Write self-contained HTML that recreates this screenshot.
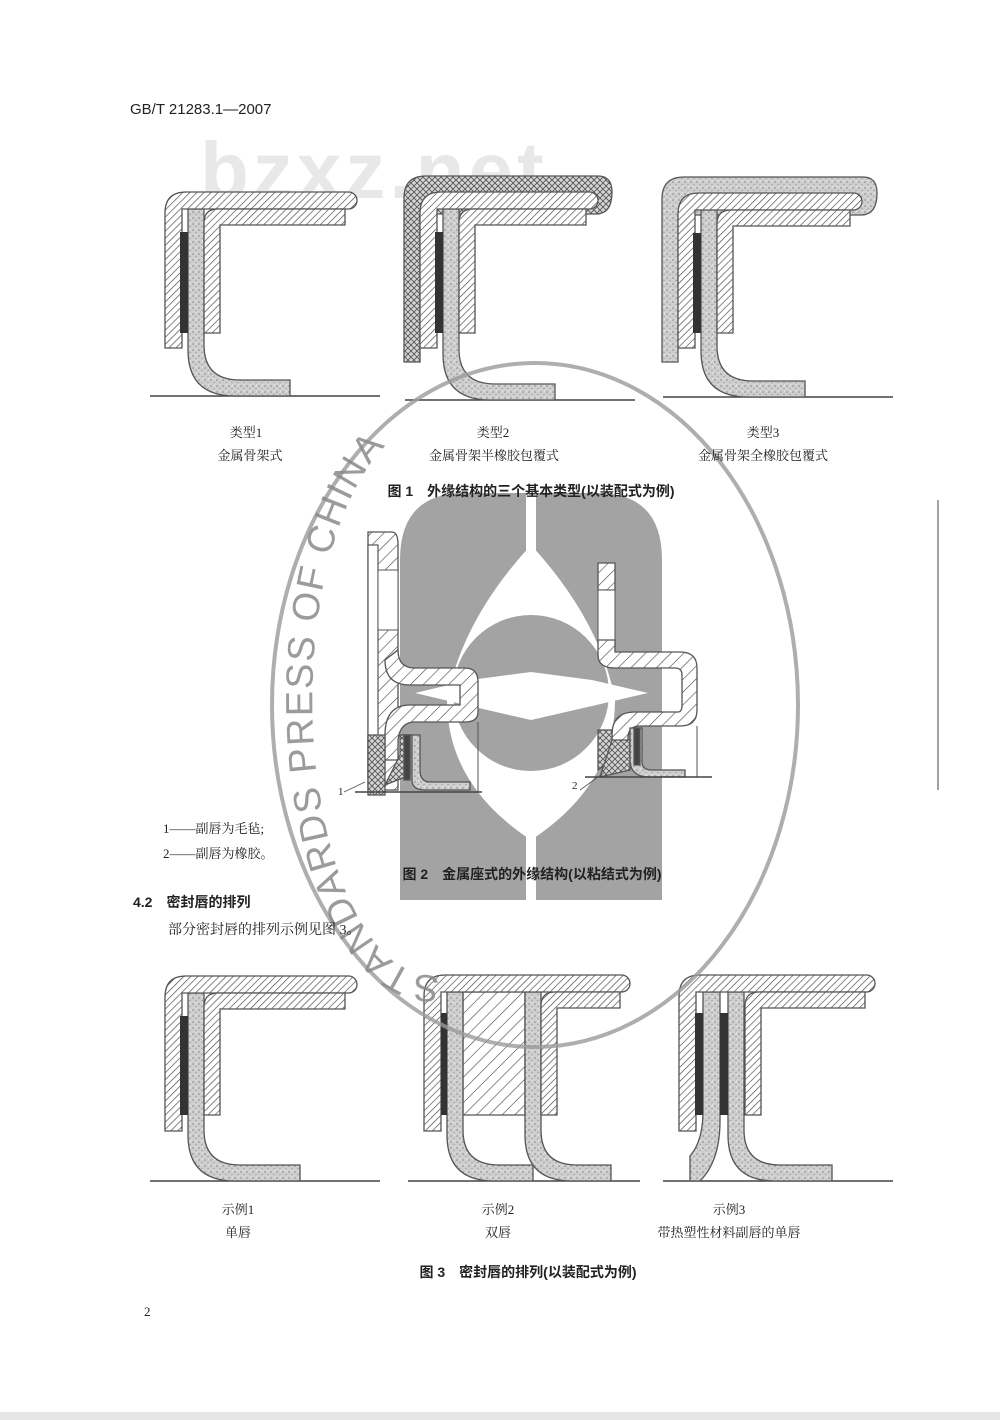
<!DOCTYPE html>
<html><head><meta charset="utf-8"><style>
html,body{margin:0;padding:0;background:#fff}
body{width:1000px;height:1420px;position:relative;overflow:hidden;font-family:"Liberation Serif","Noto Serif CJK SC",serif;color:#222}
.t{position:absolute;white-space:nowrap;font-size:13px}
.c{transform:translateX(-50%)}
.b{font-family:"Liberation Sans","Noto Sans CJK SC",sans-serif;font-weight:bold;font-size:14px}
svg{position:absolute;left:0;top:0}
</style></head><body>
<svg id="s" width="1000" height="1420" viewBox="0 0 1000 1420">
<defs>
<pattern id="h" width="5" height="5" patternUnits="userSpaceOnUse" patternTransform="rotate(45)"><rect width="5" height="5" fill="#fff"/><line x1="0" y1="0" x2="0" y2="5" stroke="#444" stroke-width="1.3"/></pattern>
<pattern id="h2" width="9" height="9" patternUnits="userSpaceOnUse" patternTransform="rotate(45)"><rect width="9" height="9" fill="#fff"/><line x1="0" y1="0" x2="0" y2="9" stroke="#444" stroke-width="1.2"/></pattern>
<pattern id="st" width="6" height="6" patternUnits="userSpaceOnUse"><rect width="6" height="6" fill="#cfcfcf"/><circle cx="1" cy="2" r=".8" fill="#888"/><circle cx="4" cy="4.5" r=".7" fill="#999"/><circle cx="4.5" cy="1" r=".5" fill="#fff"/></pattern>
<pattern id="cx" width="6" height="6" patternUnits="userSpaceOnUse"><rect width="6" height="6" fill="#d5d5d5"/><path d="M0,0L6,6M6,0L0,6" stroke="#555" stroke-width=".9"/></pattern>
</defs>
<text x="200" y="198" font-family="Liberation Sans" font-weight="bold" font-size="80" fill="#e8e8e8" letter-spacing="4">bzxz.net</text>
<g id="draw"></g>
</svg>

<div class="t" style="left:130px;top:101px;font-size:15px;font-family:'Liberation Sans',sans-serif">GB/T 21283.1—2007</div>

<div class="t c" style="left:246px;top:422px">类型1</div>
<div class="t c" style="left:250px;top:445px">金属骨架式</div>
<div class="t c" style="left:493px;top:422px">类型2</div>
<div class="t c" style="left:494px;top:445px">金属骨架半橡胶包覆式</div>
<div class="t c" style="left:763px;top:422px">类型3</div>
<div class="t c" style="left:763px;top:445px">金属骨架全橡胶包覆式</div>
<div class="t c b" style="left:531px;top:481px">图 1　外缘结构的三个基本类型(以装配式为例)</div>

<div class="t" style="left:338px;top:786px;font-size:11px">1</div>
<div class="t" style="left:572px;top:780px;font-size:11px">2</div>
<div class="t" style="left:163px;top:818px">1——副唇为毛毡;</div>
<div class="t" style="left:163px;top:843px">2——副唇为橡胶。</div>
<div class="t c b" style="left:532px;top:864px">图 2　金属座式的外缘结构(以粘结式为例)</div>
<div class="t b" style="left:133px;top:892px">4.2　密封唇的排列</div>
<div class="t" style="left:168px;top:919px;font-size:14px">部分密封唇的排列示例见图 3。</div>

<div class="t c" style="left:238px;top:1199px">示例1</div>
<div class="t c" style="left:238px;top:1222px">单唇</div>
<div class="t c" style="left:498px;top:1199px">示例2</div>
<div class="t c" style="left:498px;top:1222px">双唇</div>
<div class="t c" style="left:729px;top:1199px">示例3</div>
<div class="t c" style="left:729px;top:1222px">带热塑性材料副唇的单唇</div>
<div class="t c b" style="left:528px;top:1262px">图 3　密封唇的排列(以装配式为例)</div>
<div class="t" style="left:144px;top:1304px">2</div>

<script>
var o='';
function P(d,f,sw){o+='<path d="'+d+'" fill="'+(f||'none')+'" stroke="#555" stroke-width="'+(sw||1.3)+'"/>';}
function outer(x0,top,right,bottom){var t=17;
P('M'+x0+','+bottom+' L'+x0+','+(top+21)+' Q'+x0+','+top+' '+(x0+21)+','+top+' L'+(right-8.5)+','+top+' A8.5 8.5 0 0 1 '+(right-8.5)+','+(top+t)+' L'+(x0+t)+','+(top+t)+' L'+(x0+t)+','+bottom+' Z','url(#h)');}
function inner(l,top2,right,ib){var r=l+16;
P('M'+l+','+ib+' L'+l+','+(top2+14)+' Q'+l+','+top2+' '+(l+14)+','+top2+' L'+right+','+top2+' L'+right+','+(top2+16)+' L'+r+','+(top2+16)+' L'+r+','+ib+' Z','url(#h)');}
function lip(l,top2,end,base){var r=l+16;
P('M'+l+','+top2+' L'+r+','+top2+' L'+r+','+(base-51)+' Q'+r+','+(base-16)+' '+(r+36)+','+(base-16)+' L'+end+','+(base-16)+' L'+end+','+base+' L'+(r+31)+','+base+' Q'+l+','+base+' '+l+','+(base-46)+' Z','url(#st)');}
function lipL(l,top2,end,base){var r=l+17;
P('M'+l+','+top2+' L'+r+','+top2+' L'+r+','+(base-60)+' Q'+r+','+(base-20)+' '+(end+10)+','+base+' L'+end+','+base+' L'+end+','+(base-25)+' Q'+l+','+(base-40)+' '+l+','+(base-70)+' Z','url(#st)');}
function blk(l,r,y1,y2){o+='<rect x="'+l+'" y="'+y1+'" width="'+(r-l)+'" height="'+(y2-y1)+'" fill="#333"/>';}
function base(x1,x2,y){o+='<line x1="'+x1+'" y1="'+y+'" x2="'+x2+'" y2="'+y+'" stroke="#444" stroke-width="1.5"/>';}
function wrap(x0,top,right,bottom,f){P('M'+x0+','+bottom+' L'+x0+','+(top+22)+' Q'+x0+','+top+' '+(x0+22)+','+top+' L'+(right-14)+','+top+' Q'+right+','+top+' '+right+','+(top+16)+' Q'+right+','+(top+38)+' '+(right-16)+','+(top+38)+' L'+(x0+16)+','+(top+38)+' L'+(x0+16)+','+bottom+' Z',f);}
function single(x0,top,right,bottom,b,lend,ib){
 base(x0-15,x0+215,b);
 lip(x0+23,top+17,lend,b);
 outer(x0,top,right,bottom);
 blk(x0+15,x0+23,top+40,ib);
 inner(x0+39,top+17,right-12,ib);
}
single(165,192,357,348,396,290,333);
wrap(404,176,612,362,'url(#cx)');
single(420,192,598,348,400,555,333);
wrap(662,177,877,362,'url(#st)');
single(678,193,862,348,397,805,333);
single(165,976,357,1131,1181,300,1115);
base(408,640,1181);
P('M463,992 L525,992 L525,1115 L463,1115 Z','url(#h2)');
lip(447,992,533,1181);
lip(525,992,611,1181);
outer(424,975,630,1131);
blk(441,447,1013,1115);
inner(541,992,620,1115);
base(663,893,1181);
lipL(703,992,690,1181);
lip(728,992,832,1181);
outer(679,975,875,1131);
blk(695,703,1013,1115);blk(720,728,1013,1115);
inner(745,992,865,1115);

var g='';
g+='<path d="M400,900 L400,560 Q400,493 465,493 L526,493 L526,900 Z" fill="#a3a3a3"/>';
g+='<path d="M662,900 L662,560 Q662,493 597,493 L536,493 L536,900 Z" fill="#a3a3a3"/>';
g+='<path d="M531,545 Q600,620 615,700 Q615,785 531,840 Q447,785 447,700 Q462,620 531,545 Z" fill="#fff"/>';
g+='<circle cx="531" cy="693" r="78" fill="#a3a3a3"/>';
g+='<path d="M415,693 L470,680 L531,672 L592,680 L648,693 L592,706 L531,720 L470,706 Z" fill="#fff"/>';
o=g+o;

P('M368,532 L392,532 Q398,532 398,545 L398,790 L368,790 Z','url(#h2)');
o+='<rect x="368" y="545" width="10" height="233" fill="#fff" stroke="#555" stroke-width="1.2"/>';
o+='<rect x="378" y="570" width="20" height="60" fill="#fff" stroke="#555" stroke-width="1"/>';
P('M398,650 Q398,668 415,668 L465,668 Q478,668 478,682 L478,712 Q478,722 465,722 L415,722 Q400,722 398,740 L398,760 L385,760 L385,735 Q385,705 410,705 L460,705 L460,685 L410,685 Q385,685 385,660 Z','url(#h2)');
P('M368,735 L385,735 L385,795 L368,795 Z','url(#cx)');
P('M385,785 L400,755 L400,735 L410,735 L410,775 Z','url(#cx)');
P('M400,735 L412,735 L412,780 Q412,790 425,790 L470,790 L470,782 L430,782 Q420,782 420,770 L420,735 Z','url(#st)');
P('M404,735 L410,735 L410,780 L404,780 Z','#444');
o+='<line x1="478" y1="722" x2="478" y2="792" stroke="#555"/>';
base(355,482,792);
o+='<line x1="344" y1="792" x2="365" y2="782" stroke="#555" stroke-width=".8"/>';
P('M598,563 L615,563 L615,590 L598,590 Z','url(#h2)');
o+='<rect x="598" y="590" width="17" height="50" fill="#fff" stroke="#555" stroke-width="1"/>';
P('M598,640 L615,640 L615,652 L680,652 Q697,652 697,668 L697,710 Q697,726 680,726 L640,726 Q628,726 628,738 L628,760 L612,760 L612,735 Q612,712 635,712 L678,712 Q682,712 682,705 L682,675 Q682,668 675,668 L615,668 Q598,668 598,655 Z','url(#h2)');
P('M598,730 L612,730 L612,760 L598,770 Z','url(#cx)');
P('M612,740 L630,740 L630,770 L600,777 Z','url(#cx)');
P('M630,728 L642,728 L642,762 Q642,770 652,770 L685,770 L685,777 L650,777 Q630,777 630,760 Z','url(#st)');
P('M634,728 L640,728 L640,765 L634,765 Z','#444');
o+='<line x1="697" y1="726" x2="697" y2="777" stroke="#555"/>';
base(585,712,777);
o+='<line x1="580" y1="790" x2="605" y2="772" stroke="#555" stroke-width=".8"/>';
o+='<line x1="938" y1="500" x2="938" y2="790" stroke="#666" stroke-width="1.2"/>';

o+='<ellipse cx="535" cy="705" rx="263" ry="342" fill="none" stroke="#9a9a9a" stroke-width="4" opacity=".8"/>';
o+='<path id="arc" d="M440,975 A120 275 0 0 1 425,425" fill="none"/>';
o+='<text font-family="Liberation Sans" font-size="38" fill="#8a8a8a" opacity=".85"><textPath href="#arc" textLength="600" lengthAdjust="spacing">STANDARDS PRESS OF CHINA</textPath></text>';
o+='<rect x="0" y="1412" width="1000" height="8" fill="#e6e6e6"/>';
document.getElementById('draw').innerHTML=o;
</script>
</body></html>
